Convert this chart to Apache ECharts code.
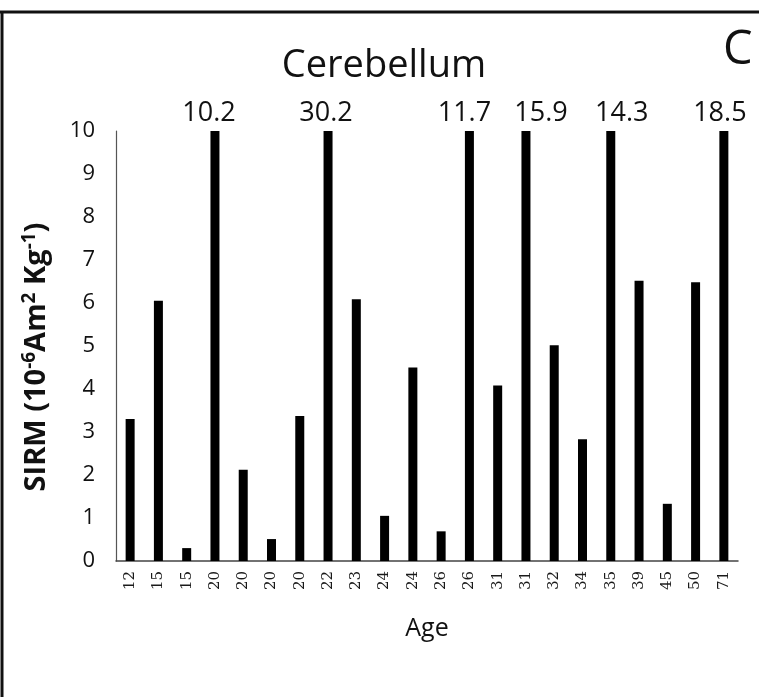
<!DOCTYPE html>
<html>
<head>
<meta charset="utf-8">
<script src="https://cdn.jsdelivr.net/npm/echarts@6/dist/echarts.min.js"></script>
<style>
  html, body { margin: 0; padding: 0; background: #fff; }
  #chart { width: 759px; height: 697px; }
</style>
</head>
<body>
<div id="chart"></div>
<script>
// Age of each subject (one bar per sample, ages repeat)
const ages = ['12','15','15','20','20','20','20','22','23','24','24','26','26','31','31','32','34','35','39','45','50','71'];
// SIRM in 10^-6 Am^2 Kg^-1; values above the axis top are clipped and labelled
const sirm = [3.3, 6.05, 0.3, 10.2, 2.12, 0.51, 3.37, 30.2, 6.09, 1.05, 4.5, 0.69, 11.7, 4.08, 15.9, 5.02, 2.83, 14.3, 6.52, 1.33, 6.48, 18.5];
const yTicks = [0, 1, 2, 3, 4, 5, 6, 7, 8, 9, 10];
const yMax = yTicks[yTicks.length - 1];

const chart = echarts.init(document.getElementById('chart'));
const sans = "'Open Sans', Lato, sans-serif";

// horizontal nudges for the overflow labels so neighbouring ones do not collide
const labelNudge = { 3: -6, 7: -2, 12: -5, 14: 15, 17: 11, 21: -4 };

const barData = sirm.map((v, i) => {
  const item = { value: v };
  if (v > yMax && labelNudge[i] !== undefined) {
    item.label = { offset: [labelNudge[i], 0] };
  }
  return item;
});

chart.setOption({
  animation: false,
  backgroundColor: '#fff',
  title: {
    text: 'Cerebellum',
    left: 379,
    top: 42,
    textAlign: 'center',
    textStyle: { fontFamily: sans, fontSize: 38, fontWeight: 'normal', color: '#111' }
  },
  graphic: [
    { type: 'line', shape: { x1: 0, y1: 12, x2: 759, y2: 12 }, style: { stroke: '#111', lineWidth: 3 } },
    { type: 'line', shape: { x1: 2, y1: 11, x2: 2, y2: 697 }, style: { stroke: '#111', lineWidth: 3 } },
    { type: 'text', left: 723, top: 27, style: { text: 'C', font: "47px " + sans, fill: '#111' } },
    {
      type: 'text',
      x: 37,
      y: 357,
      rotation: Math.PI / 2,
      style: {
        text: '{b|SIRM (10}{s|-6}{b|Am}{s|2}{b| Kg}{s|-1}{b|)}',
        align: 'center',
        verticalAlign: 'middle',
        rich: {
          b: { fontFamily: sans, fontSize: 29, fontWeight: 'bold', fill: '#111', lineHeight: 33 },
          s: { fontFamily: sans, fontSize: 19, fontWeight: 'bold', fill: '#111', verticalAlign: 'top', lineHeight: 33 }
        }
      }
    }
  ],
  grid: { left: 116, right: 21, top: 131, bottom: 136 },
  xAxis: {
    type: 'category',
    data: ages,
    name: 'Age',
    nameLocation: 'middle',
    nameGap: 55,
    nameTextStyle: { fontFamily: sans, fontSize: 25, color: '#111' },
    axisLine: { lineStyle: { color: '#444', width: 1.5 } },
    axisTick: { show: false },
    axisLabel: {
      rotate: 90,
      interval: 0,
      margin: 10,
      fontFamily: "'DejaVu Serif', 'Liberation Serif', serif",
      fontSize: 15,
      color: '#1a1a1a'
    }
  },
  yAxis: {
    type: 'value',
    min: 0,
    max: yMax,
    interval: 1,
    splitLine: { show: false },
    axisTick: { show: false },
    axisLine: { show: true, lineStyle: { color: '#555', width: 1.2 } },
    axisLabel: {
      margin: 21,
      fontFamily: sans,
      fontSize: 22,
      color: '#111',
      customValues: yTicks
    }
  },
  series: [{
    type: 'bar',
    data: barData,
    barWidth: 9,
    clip: true,
    itemStyle: { color: '#000' },
    label: {
      show: true,
      position: 'top',
      distance: 4,
      fontFamily: sans,
      fontSize: 27,
      color: '#111',
      formatter: p => (p.value > yMax ? p.value.toFixed(1) : '')
    }
  }]
});
</script>
</body>
</html>
